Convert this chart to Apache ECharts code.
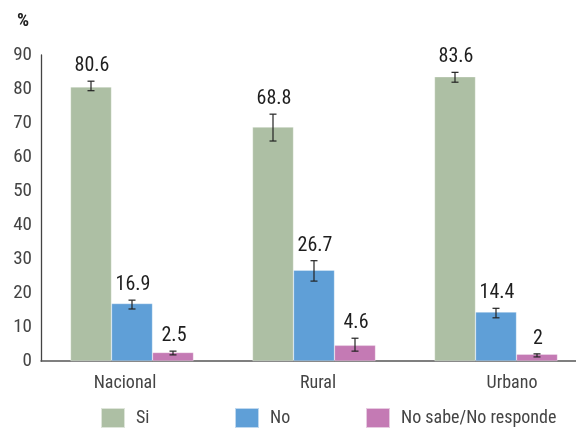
<!DOCTYPE html>
<html>
<head>
<meta charset="utf-8">
<script src="https://cdn.jsdelivr.net/npm/echarts@6/dist/echarts.min.js"></script>
<style>
html,body{margin:0;padding:0;background:#fff;}
#chart{width:576px;height:430px;}
</style>
</head>
<body>
<div id="chart"></div>
<script>
var categories = ['Nacional', 'Rural', 'Urbano'];
var seriesNames = ['Si', 'No', 'No sabe/No responde'];
var siValues = [80.6, 68.8, 83.6];
var noValues = [16.9, 26.7, 14.4];
var nsValues = [2.5, 4.6, 2];
var siLow = [79.5, 64.7, 82.0];
var siHigh = [82.3, 72.6, 84.9];
var noLow = [15.3, 23.5, 12.7];
var noHigh = [17.9, 29.5, 15.5];
var nsLow = [1.8, 2.9, 1.2];
var nsHigh = [2.9, 6.7, 2.1];
var yTicks = [0, 10, 20, 30, 40, 50, 60, 70, 80, 90];

var colors = ['#adbfa4', '#5f9fd7', '#c47ab4'];
var FONT = '"Roboto Condensed", "Liberation Sans Narrow", sans-serif';
var BAR_W = 41;

var values = [siValues, noValues, nsValues];
var lows = [siLow, noLow, nsLow];
var highs = [siHigh, noHigh, nsHigh];

function errorSeries(si) {
  var data = categories.map(function (c, i) {
    return [i, lows[si][i], highs[si][i], values[si][i]];
  });
  return {
    type: 'custom',
    name: seriesNames[si] + ' error',
    z: 10,
    silent: true,
    data: data,
    encode: { x: 0, y: [1, 2] },
    renderItem: function (params, api) {
      var idx = api.value(0);
      var lo = api.coord([idx, api.value(1)]);
      var hi = api.coord([idx, api.value(2)]);
      var x = lo[0] + (si - 1) * BAR_W;
      var cap = 3.5;
      var style = { stroke: '#222', lineWidth: 1.2 };
      return {
        type: 'group',
        children: [
          { type: 'line', shape: { x1: x, y1: lo[1], x2: x, y2: hi[1] }, style: style },
          { type: 'line', shape: { x1: x - cap, y1: lo[1], x2: x + cap, y2: lo[1] }, style: style },
          { type: 'line', shape: { x1: x - cap, y1: hi[1], x2: x + cap, y2: hi[1] }, style: style },
          { type: 'text', style: {
              text: String(api.value(3)), x: x + 1, y: hi[1] - 15,
              textAlign: 'center', textVerticalAlign: 'middle',
              font: '20px ' + FONT, fill: '#1e1e1e'
          } }
        ]
      };
    }
  };
}

function barSeries(si) {
  return {
    type: 'bar',
    name: seriesNames[si],
    data: values[si],
    barWidth: BAR_W,
    barGap: '0%',
    itemStyle: { color: colors[si], borderColor: 'rgba(255,255,255,0.6)', borderWidth: 0.5 }
  };
}

var legendLefts = [100, 234, 365];
var legends = seriesNames.map(function (n, i) {
  return {
    data: [n],
    left: legendLefts[i],
    top: 407,
    padding: 0,
    itemWidth: 24,
    itemHeight: 20,
    icon: 'rect',
    selectedMode: false,
    textStyle: { fontFamily: FONT, fontSize: 18, color: '#444', padding: [0, 0, 0, 6] }
  };
});

var labelRich = {
  n: { fontFamily: FONT, fontSize: 18, color: '#444', padding: [0, 14, 0, 0] },
  r: { fontFamily: FONT, fontSize: 18, color: '#444', padding: [0, 0, 0, 8] },
  u: { fontFamily: FONT, fontSize: 18, color: '#444', padding: [0, 0, 0, 32] }
};
var labelKeys = ['n', 'r', 'u'];

var chart = echarts.init(document.getElementById('chart'), null, { renderer: 'canvas' });
chart.setOption({
  animation: false,
  color: colors,
  title: {
    text: '%', left: 17, top: 12, padding: 0,
    textStyle: { fontFamily: FONT, fontSize: 19, fontWeight: 'bold', color: '#222' }
  },
  legend: legends,
  grid: { left: 41, top: 55, height: 306, width: 546, outerBoundsMode: 'none', containLabel: false },
  xAxis: {
    type: 'category',
    data: categories,
    axisLine: { lineStyle: { color: '#555', width: 1.5 } },
    axisTick: { show: false },
    axisLabel: {
      margin: 13,
      formatter: function (v, i) { return '{' + labelKeys[i] + '|' + v + '}'; },
      rich: labelRich
    }
  },
  yAxis: {
    type: 'value',
    min: 0, max: 90, interval: 10,
    splitLine: { show: false },
    axisTick: { show: false },
    axisLine: { show: true, lineStyle: { color: '#444', width: 1.3 } },
    axisLabel: {
      margin: 9,
      fontFamily: FONT, fontSize: 19, color: '#444',
      padding: [0, 0, 7, 0],
      formatter: function (v) { return yTicks.indexOf(v) >= 0 ? String(v) : ''; }
    }
  },
  series: [barSeries(0), barSeries(1), barSeries(2), errorSeries(0), errorSeries(1), errorSeries(2)]
});
</script>
</body>
</html>
